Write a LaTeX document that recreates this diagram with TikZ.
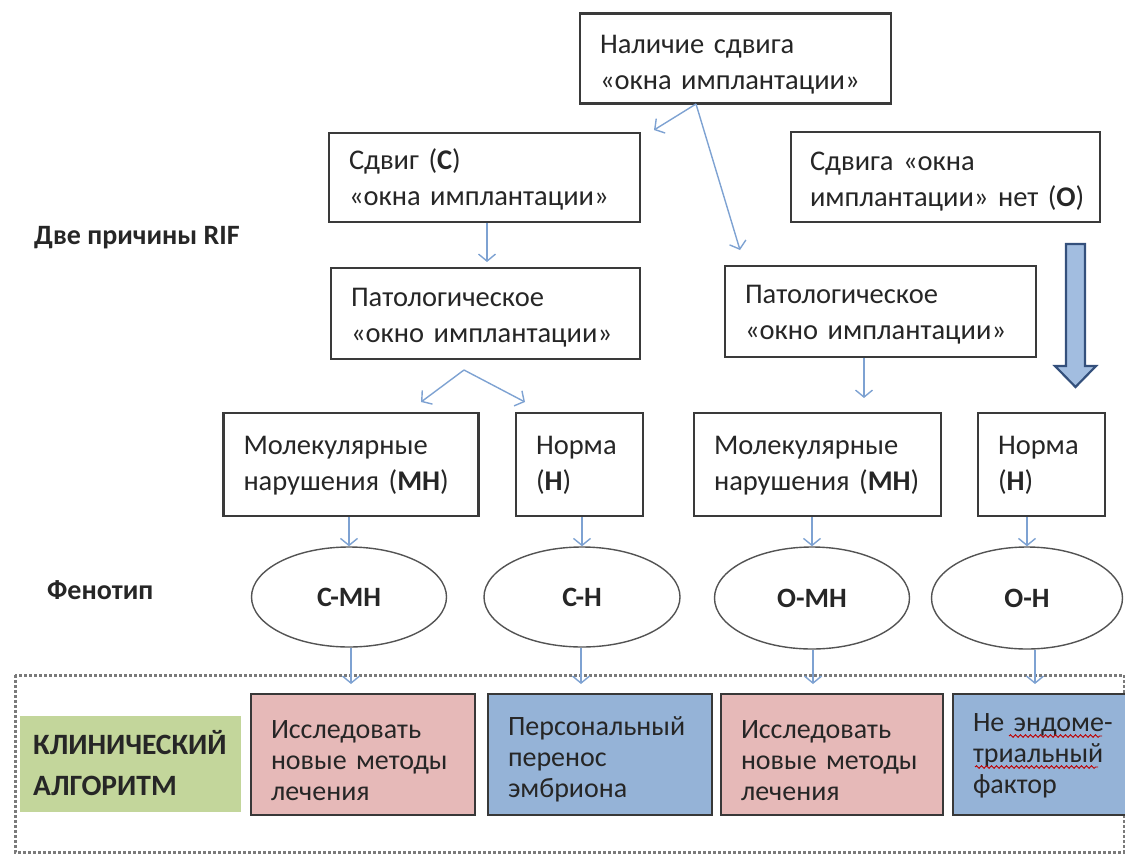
\documentclass[tikz,border=0pt]{standalone}
\usepackage{fontspec}
\setmainfont{Carlito}
\usetikzlibrary{arrows.meta,shapes.geometric,decorations.pathmorphing}
\definecolor{arrc}{HTML}{7EA2D2}
\definecolor{bord}{HTML}{3A3A3A}
\definecolor{pinkf}{HTML}{E6B9B8}
\definecolor{bluef}{HTML}{95B3D7}
\definecolor{greenf}{HTML}{C3D69B}
\definecolor{txt}{HTML}{262626}
\definecolor{bigf}{HTML}{A2BDE0}
\definecolor{bigb}{HTML}{34507C}
\definecolor{dotc}{HTML}{7A7A7A}
\begin{document}
\begin{tikzpicture}[x=1pt,y=-1pt,
  box/.style={draw=bord, line width=2.4pt, fill=white, align=left, inner xsep=20pt, inner ysep=0pt,
    font=\fontsize{28.5}{36}\selectfont, text=txt},
  vp/.style={execute at begin node={\rule{0pt}{#1}}, execute at end node={\rule[-14pt]{0pt}{14pt}}},
  ell/.style={ellipse, draw=gray!65!black, line width=1.4pt, inner sep=0pt,
    font=\bfseries\fontsize{28}{34}\selectfont, text=txt},
  arrow/.style={draw=arrc, line width=1.4pt, -{Straight Barb[length=7pt,width=17pt,line width=1.4pt]}},
  cbox/.style={draw=black!78, line width=2.8pt, align=left, inner xsep=20pt, inner ysep=0pt,
    font=\fontsize{28}{31}\selectfont, text=txt, minimum height=121pt},
  lab/.style={font=\bfseries\fontsize{28}{34}\selectfont, text=txt, anchor=west, inner sep=0pt},
  wave/.style={draw=red!75!black, line width=0.9pt, decorate, decoration={snake, amplitude=1.3pt, segment length=5pt}}
]
\useasboundingbox (0,0) rectangle (1125,854);
\clip (0,0) rectangle (1125,854);

% dotted frame
\draw[dotc, line width=3pt, dash pattern=on 2.6pt off 2.4pt] (15,675) rectangle (1124,852);

% top boxes
\node[box, vp=40pt, minimum width=311pt, minimum height=89pt, text width=271pt] (top) at (735.5,58.5)
  {Наличие сдвига\\«окна имплантации»};
\node[box, vp=34pt, minimum width=311pt, minimum height=89pt, text width=271pt] (sdvig) at (484.5,177.5)
  {Сдвиг (\textbf{С})\\«окна имплантации»};
\node[box, vp=36pt, minimum width=309pt, minimum height=90pt, text width=271pt, inner xsep=19pt] (net) at (945.5,177)
  {Сдвига «окна\\\mbox{имплантации» нет (\textbf{О})}};
\node[box, vp=35pt, minimum width=309pt, minimum height=91pt, text width=269pt] (pathL) at (485.5,313.5)
  {Патологическое\\«окно имплантации»};
\node[box, vp=33pt, minimum width=311pt, minimum height=91pt, text width=271pt] (pathR) at (880.5,311.5)
  {Патологическое\\«окно имплантации»};
\node[box, vp=29pt, minimum width=255pt, minimum height=103pt, text width=215pt] (molL) at (351,464.5)
  {Молекулярные\\нарушения (\textbf{МН})};
\node[box, vp=29pt, minimum width=127pt, minimum height=103pt, text width=87pt] (normL) at (579.5,464.5)
  {Норма\\(\textbf{Н})};
\node[box, vp=29pt, minimum width=247pt, minimum height=103pt, text width=207pt] (molR) at (817.5,464.5)
  {Молекулярные\\нарушения (\textbf{МН})};
\node[box, vp=29pt, minimum width=127pt, minimum height=103pt, text width=87pt] (normR) at (1041.5,464.5)
  {Норма\\(\textbf{Н})};

% labels
\node[lab] (dve) at (34,238) {Две причины RIF};
\node[lab] (feno) at (47,590) {Фенотип};

% ellipses
\node[ell, minimum width=195pt, minimum height=100pt] (cmn) at (349,597) {С-МН};
\node[ell, minimum width=196pt, minimum height=100pt] (ch) at (582,597) {С-Н};
\node[ell, minimum width=195pt, minimum height=102pt] (omn) at (812,598) {О-МН};
\node[ell, minimum width=191pt, minimum height=102pt] (oh) at (1027,598) {О-Н};

% bottom row
\node[fill=greenf, minimum width=221pt, minimum height=96pt, inner sep=0pt] (alg) at (130.5,764) {};
\node[lab, align=left, font=\bfseries\fontsize{29.5}{41}\selectfont] (algt) at (33,763)
  {КЛИНИЧЕСКИЙ\\АЛГОРИТМ};
\node[cbox, vp=43pt, fill=pinkf, minimum width=224pt, text width=184pt] (r1) at (363,754.5)
  {Исследовать\\новые методы\\лечения};
\node[cbox, vp=38pt, fill=bluef, minimum width=224pt, text width=184pt] (r2) at (600,754.5)
  {Персональный\\перенос\\эмбриона};
\node[cbox, vp=43pt, fill=pinkf, minimum width=222pt, text width=182pt] (r3) at (832,754.5)
  {Исследовать\\новые методы\\лечения};
\node[cbox, vp=29pt, fill=bluef, minimum width=200pt, text width=160pt] (r4) at (1053,754.5)
  {Не эндоме-\\триальный\\фактор};
\draw[wave] (1009,736) -- (1102,736);
\draw[wave] (975,767) -- (1098,767);

% big block arrow
\draw[bigb, line width=2.2pt, fill=bigf, line join=miter]
  (1066,244) -- (1085,244) -- (1085,366) -- (1096,366) -- (1075.5,387) -- (1055,366) -- (1066,366) -- cycle;

% connectors
\coordinate (topout) at (696,104);
\coordinate (tipA) at (654,130);
\coordinate (tipB) at (740,250);
\coordinate (apex) at (464,370);
\coordinate (tipL) at (421,402);
\coordinate (tipR) at (525,402);
\draw[arrow] (topout) -- (tipA);
\draw[arrow] (topout) -- (tipB);
\draw[arrow] (sdvig.south -| 487,0) -- (487,262);
\draw[arrow] (apex) -- (tipL);
\draw[arrow] (apex) -- (tipR);
\coordinate (pRtip) at (864,398);
\draw[arrow] (pathR.south -| pRtip) -- (pRtip);

\draw[arrow] (molL.south -| cmn.north) -- (cmn.north);
\draw[arrow] (normL.south -| ch.north) -- (ch.north);
\draw[arrow] (molR.south -| omn.north) -- (omn.north);
\draw[arrow] (normR.south -| oh.north) -- (oh.north);

\coordinate (b1) at (351,684);
\coordinate (b2) at (581,684);
\coordinate (b3) at (813,684);
\coordinate (b4) at (1035,684);
\draw[arrow] (cmn.south -| b1) -- (b1);
\draw[arrow] (ch.south -| b2) -- (b2);
\draw[arrow] (omn.south -| b3) -- (b3);
\draw[arrow] (oh.south -| b4) -- (b4);
\end{tikzpicture}
\end{document}
